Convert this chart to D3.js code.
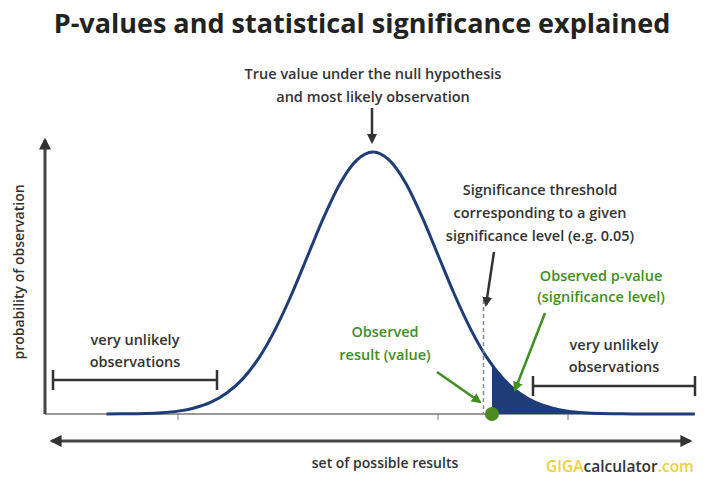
<!DOCTYPE html><html><head><meta charset="utf-8"><script src="https://cdn.jsdelivr.net/npm/d3@7"></script>
<style>body{margin:0;background:#fff}text{font-family:"Open Sans",sans-serif}</style></head><body>
<script>
// standard-score positions and relative density
const zValues=[-4.1,-3.75,-3.5,-3.25,-3,-2.75,-2.5,-2.25,-2,-1.75,-1.5,-1.25,-1,-0.75,-0.5,-0.25,0,0.25,0.5,0.75,1,1.25,1.5,1.75,2,2.25,2.5,2.75,3,3.25,3.5,3.75,4,4.5,4.95];
const density=[0,0.001,0.002,0.005,0.011,0.023,0.044,0.080,0.135,0.216,0.325,0.458,0.607,0.755,0.883,0.969,1,0.969,0.883,0.755,0.607,0.458,0.325,0.216,0.135,0.080,0.044,0.023,0.011,0.005,0.002,0.001,0,0,0];
const threshold=1.7, observed=1.83;
const tickZ=[-3,1,3];
const svg=d3.select("body").append("svg").attr("width",720).attr("height",485);
const x=d3.scaleLinear().domain([0,1]).range([373,438]);
const y=d3.scaleLinear().domain([0,1]).range([414,152]);
const dark="#333",blue="#1d3c78",green="#3f8f22";
const defs=svg.append("defs");
function marker(id,c){defs.append("marker").attr("id",id).attr("viewBox","0 0 10 10").attr("refX",8).attr("refY",5).attr("markerWidth",4).attr("markerHeight",4).attr("orient","auto-start-reverse").append("path").attr("d","M0,0L10,5L0,10z").attr("fill",c);}
marker("ad",dark);marker("ag",green);marker("ab","#333");
svg.append("text").attr("x",362).attr("y",33).attr("text-anchor","middle").attr("font-size",27).attr("font-weight","bold").attr("fill","#222").text("P-values and statistical significance explained");
// axes
svg.append("line").attr("x1",45).attr("x2",695).attr("y1",414).attr("y2",414).attr("stroke","#777").attr("stroke-width",1.5);
svg.selectAll(".tk").data(tickZ).enter().append("line").attr("x1",d=>x(d)).attr("x2",d=>x(d)).attr("y1",414).attr("y2",420).attr("stroke","#777");
svg.append("line").attr("x1",45).attr("x2",45).attr("y1",414).attr("y2",140).attr("stroke","#444").attr("stroke-width",3).attr("marker-end","url(#ab)");
svg.append("line").attr("x1",52).attr("x2",690).attr("y1",441).attr("y2",441).attr("stroke","#444").attr("stroke-width",3).attr("marker-end","url(#ab)").attr("marker-start","url(#ab)");
svg.append("text").attr("transform","translate(24,272) rotate(-90)").attr("text-anchor","middle").attr("font-size",14).attr("font-weight",600).attr("fill",dark).text("probability of observation");
svg.append("text").attr("x",385).attr("y",468).attr("text-anchor","middle").attr("font-size",14).attr("font-weight",600).attr("fill",dark).text("set of possible results");
const g=svg.append("text").attr("x",620).attr("y",472).attr("text-anchor","middle").attr("font-size",15.5).attr("font-weight",600);
g.append("tspan").attr("fill","#f0cf3a").text("GIGA");g.append("tspan").attr("fill","#333").text("calculator");g.append("tspan").attr("fill","#f0cf3a").text(".com");
// curve
const pts=zValues.map((z,i)=>[z,density[i]]);
defs.append("clipPath").attr("id","tail").append("rect").attr("x",x(observed)).attr("y",0).attr("width",300).attr("height",414);
svg.append("path").datum(pts).attr("clip-path","url(#tail)").attr("fill",blue).attr("d",d3.area().x(d=>x(d[0])).y0(414).y1(d=>y(d[1])).curve(d3.curveMonotoneX));
svg.append("path").datum(pts).attr("fill","none").attr("stroke",blue).attr("stroke-width",3).attr("d",d3.line().x(d=>x(d[0])).y(d=>y(d[1])).curve(d3.curveMonotoneX));
svg.append("line").attr("x1",x(threshold)).attr("x2",x(threshold)).attr("y1",300).attr("y2",414).attr("stroke","#888").attr("stroke-dasharray","4,3").attr("stroke-width",1.5);
svg.append("circle").attr("cx",x(observed)).attr("cy",414).attr("r",7).attr("fill","#4d8a1f");
// annotations
function lines(arr,cx,y0,dy,col){arr.forEach((t,i)=>svg.append("text").attr("x",cx).attr("y",y0+i*dy).attr("text-anchor","middle").attr("font-size",14.5).attr("font-weight",600).attr("fill",col).text(t));}
lines(["True value under the null hypothesis","and most likely observation"],373,79,23,dark);
svg.append("line").attr("x1",372).attr("x2",372).attr("y1",108).attr("y2",142).attr("stroke",dark).attr("stroke-width",2.5).attr("marker-end","url(#ad)");
lines(["Significance threshold","corresponding to a given","significance level (e.g. 0.05)"],540,195,23,dark);
svg.append("line").attr("x1",494).attr("x2",486).attr("y1",252).attr("y2",305).attr("stroke",dark).attr("stroke-width",2.5).attr("marker-end","url(#ad)");
lines(["Observed p-value","(significance level)"],601,281,21,green);
svg.append("line").attr("x1",545).attr("x2",515).attr("y1",313).attr("y2",390).attr("stroke",green).attr("stroke-width",2.5).attr("marker-end","url(#ag)");
lines(["Observed","result (value)"],385,337,23,green);
svg.append("line").attr("x1",437).attr("x2",480).attr("y1",372).attr("y2",402).attr("stroke",green).attr("stroke-width",2.5).attr("marker-end","url(#ag)");
lines(["very unlikely","observations"],135,345,22,dark);
lines(["very unlikely","observations"],614,350,22,dark);
function bracket(x1,x2,yy){svg.append("path").attr("d",`M${x1},${yy-10}V${yy+10}M${x1},${yy}H${x2}M${x2},${yy-10}V${yy+10}`).attr("stroke","#333").attr("stroke-width",2.5).attr("fill","none");}
bracket(53,217,380);bracket(533,695,386);
</script></body></html>
